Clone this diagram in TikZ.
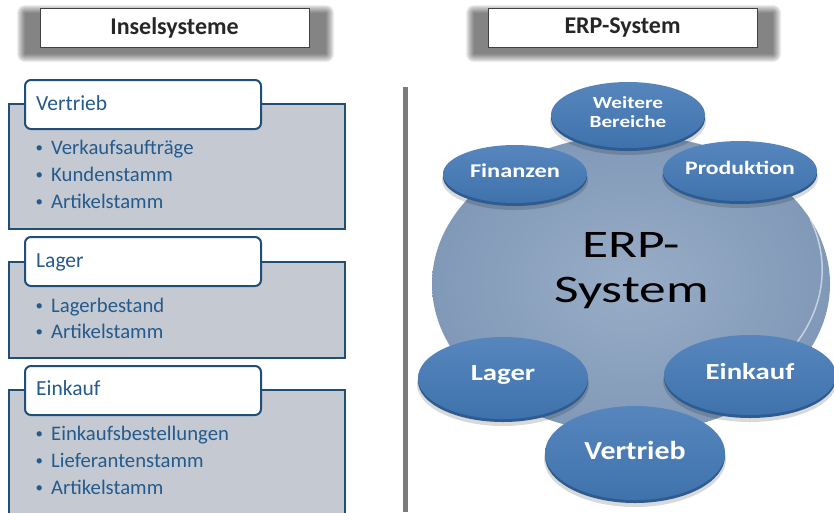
\documentclass[tikz,border=0pt]{standalone}
\usepackage{fontspec}
\setmainfont{Carlito}
\usetikzlibrary{shapes.geometric}

\definecolor{panelfill}{HTML}{C5CAD2}
\definecolor{panelline}{HTML}{1F4E79}
\definecolor{paneltext}{HTML}{245A8C}
\definecolor{hdrline}{HTML}{404040}
\definecolor{sepgray}{HTML}{7B7B7B}
\definecolor{discin}{HTML}{98ADC6}
\definecolor{discout}{HTML}{8199B8}
\definecolor{bubtop}{HTML}{5786BD}
\definecolor{bubbot}{HTML}{3F72AC}
\definecolor{bubrim}{HTML}{2E5C91}

\tikzset{
  hdrbox/.style={draw=hdrline, line width=1pt, fill=white, inner sep=0pt,
    minimum width=269pt, minimum height=39pt,
    font=\fontsize{24}{26}\selectfont\bfseries, text=black!85},
  panelbox/.style={draw=panelline, line width=2pt, fill=panelfill,
    anchor=north west, inner sep=0pt},
  tabbox/.style={draw=panelline, line width=2pt, fill=white, rounded corners=6pt,
    anchor=north west, inner sep=0pt, minimum width=236pt, minimum height=49pt},
  tablabel/.style={anchor=base west, inner sep=0pt, text=paneltext,
    font=\fontsize{21.5}{24}\selectfont},
  item/.style={anchor=base west, inner sep=0pt, text=paneltext,
    font=\fontsize{20.7}{24}\selectfont},
  bubble/.style={ellipse, inner sep=0pt, top color=bubtop, bottom color=bubbot},
  bubbletext/.style={inner sep=0pt, text=white, align=center},
}

% labels on the discs are set a little wider than the font
\newcommand\wide[1]{\scalebox{1.25}[1]{#1}}

% a raised disc: soft shadow, dark rim, shaded top face and its label
% #1 name, #2 x, #3 y, #4 width, #5 height, #6 font size, #7 label
\newcommand\erpbubble[7]{%
  \fill[black, opacity=0.15] (#2,#3+6) ellipse [x radius=#4/2+1, y radius=#5/2+1];
  \fill[bubrim] (#2,#3+3) ellipse [x radius=#4/2, y radius=#5/2];
  \node[bubble, minimum width=#4pt, minimum height=#5pt] (#1) at (#2,#3) {};
  \node[bubbletext, font=\fontsize{#6}{19}\selectfont\bfseries]
    (#1-label) at ([yshift=3pt]#1.center) {#7};
}

\newcommand\bul[1]{\makebox[15.5pt][l]{\raisebox{1.3pt}{\scalebox{0.72}{•}}}#1}

\begin{document}
\begin{tikzpicture}[x=1pt, y=-1pt]
\clip (0,0) rectangle (834,512);

% soft shadows behind the two headings
\foreach \d in {0,...,8} {
  \fill[black, opacity=0.07, rounded corners=\d pt]
    (25-\d,13-\d) rectangle (326+\d,54+\d);
  \fill[black, opacity=0.07, rounded corners=\d pt]
    (474-\d,13-\d) rectangle (773+\d,54+\d);
}
\node[hdrbox] (hleft) at (174.5,27.5) {Inselsysteme};
\node[hdrbox] (hright) at (622.5,27.5) {ERP-System};

% separator between the two halves
\coordinate (septop) at (405.5,87);
\coordinate (sepbot) at (405.5,512);
\draw[sepgray, line width=4.5pt] (septop) -- (sepbot);

% ---- isolated systems, left column ----
\node[panelbox, minimum width=336pt, minimum height=125pt] (p1) at (8,103) {};
\node[tabbox] (t1) at (24,79) {};
\node[tablabel] (l1) at (36,110) {Vertrieb};
\node[item] (i11) at (35.5,154) {\bul{Verkaufsaufträge}};
\node[item] (i12) at (35.5,181) {\bul{Kundenstamm}};
\node[item] (i13) at (35.5,208) {\bul{Artikelstamm}};

\node[panelbox, minimum width=336pt, minimum height=96pt] (p2) at (8,261) {};
\node[tabbox] (t2) at (24,236) {};
\node[tablabel] (l2) at (36,267) {Lager};
\node[item] (i21) at (35.5,312) {\bul{Lagerbestand}};
\node[item] (i22) at (35.5,338) {\bul{Artikelstamm}};

\node[panelbox, minimum width=336pt, minimum height=140pt] (p3) at (8,389) {};
\node[tabbox] (t3) at (24,365) {};
\node[tablabel] (l3) at (36,395) {Einkauf};
\node[item] (i31) at (35.5,440) {\bul{Einkaufsbestellungen}};
\node[item] (i32) at (35.5,467) {\bul{Lieferantenstamm}};
\node[item] (i33) at (35.5,494) {\bul{Artikelstamm}};

% ---- ERP system, right column ----
\node[ellipse, minimum width=398pt, minimum height=298pt, inner sep=0pt,
  inner color=discin, outer color=discout] (disc) at (631,284) {};
\draw[white, opacity=0.55, line width=1.5pt]
  (disc.20) arc[start angle=20, end angle=-60, x radius=199, y radius=-149];
\node[anchor=base, inner sep=0pt, font=\fontsize{39}{44}\selectfont] (erp1) at (631.5,257) {\scalebox{1.37}[1]{ERP-}};
\node[anchor=base, inner sep=0pt, font=\fontsize{39}{44}\selectfont] (erp2) at (631.5,302) {\scalebox{1.37}[1]{System}};

\erpbubble{bweit}{628}{115}{154}{66}{17}{\wide{Weitere}\\\wide{Bereiche}}
\erpbubble{bfin}{515}{174}{144}{58}{19.5}{\wide{Finanzen}}
\erpbubble{bprod}{740}{171}{154}{60}{19}{\wide{Produktion}}
\erpbubble{blag}{503}{378}{170}{82}{23}{\wide{Lager}}
\erpbubble{bein}{750}{375}{172}{80}{23}{\wide{Einkauf}}
\erpbubble{bver}{635}{453}{180}{94}{26}{\scalebox{1.15}[1]{Vertrieb}}
\end{tikzpicture}
\end{document}
